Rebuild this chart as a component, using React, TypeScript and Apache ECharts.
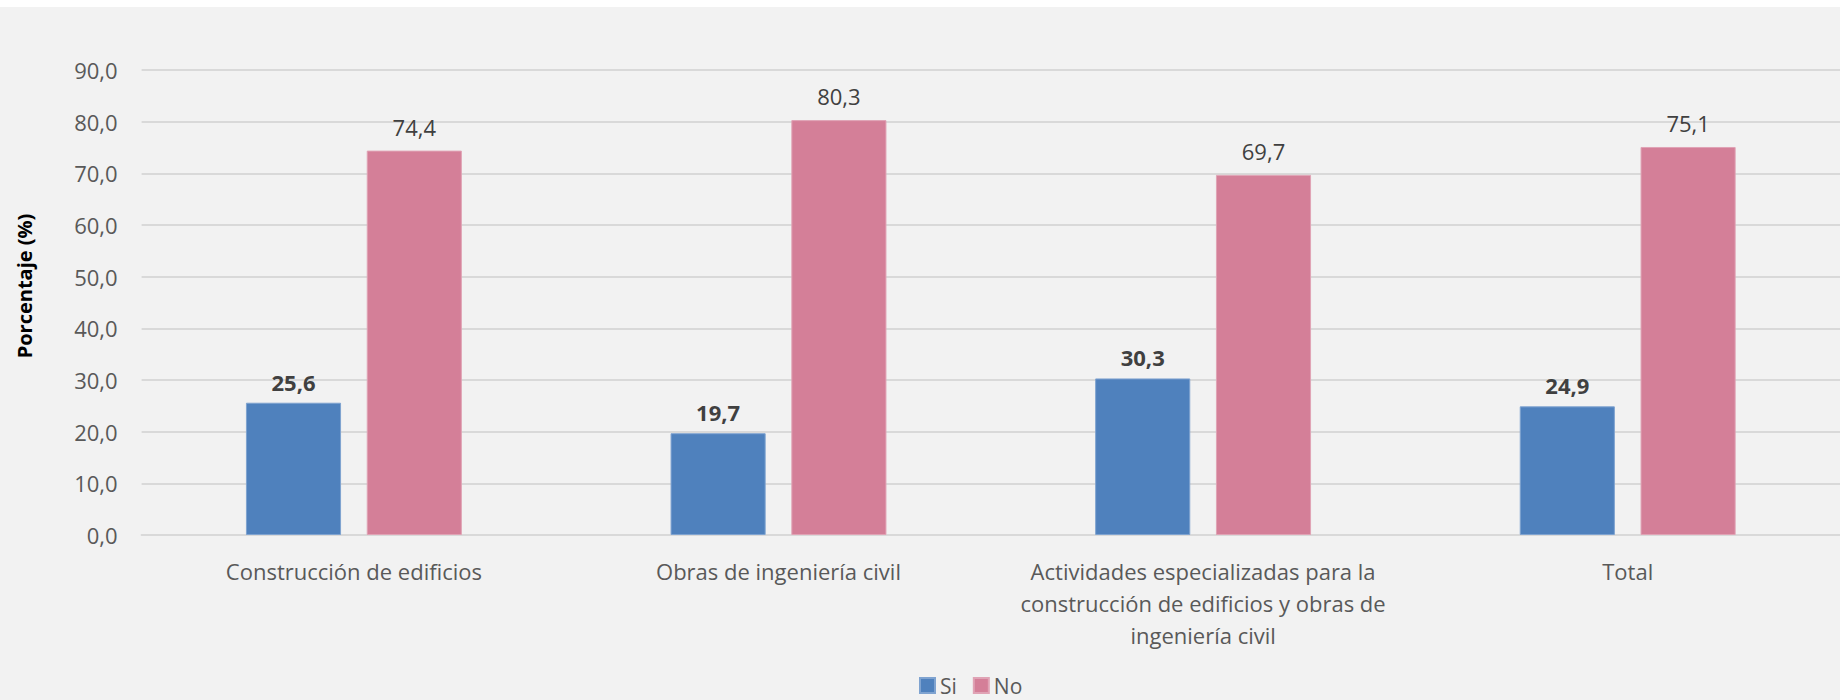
import React, { useEffect, useRef } from "react";
import * as echarts from "echarts";

const categories = [
  "Construcción de edificios",
  "Obras de ingeniería civil",
  "Actividades especializadas para la\nconstrucción de edificios y obras de\ningeniería civil",
  "Total",
];
const siValues = [25.6, 19.7, 30.3, 24.9];
const noValues = [74.4, 80.3, 69.7, 75.1];
const yTicks = { min: 0, max: 90, interval: 10 };

const FONT = "'Open Sans', 'Noto Sans', sans-serif";
const fmt = (v: number) => v.toFixed(1).replace(".", ",");

export default function App() {
  const ref = useRef<HTMLDivElement>(null);
  useEffect(() => {
    if (!ref.current) return;
    const chart = echarts.init(ref.current, undefined, { renderer: "svg" });
    chart.setOption({
      animation: false,
      backgroundColor: "#f2f2f2",
      textStyle: { fontFamily: FONT },
      grid: { left: 141.6, right: -5, top: 63, bottom: 165, containLabel: false },
      legend: {
        data: ["Si", "No"],
        left: 914,
        top: 663,
        itemWidth: 15,
        itemHeight: 15,
        itemGap: 16,
        icon: "rect",
        textStyle: { fontFamily: FONT, fontSize: 21, color: "#595959" },
      },
      xAxis: {
        type: "category",
        data: categories,
        axisLine: { show: true, lineStyle: { color: "#d9d9d9", width: 2 } },
        axisTick: { show: false },
        axisLabel: {
          interval: 0,
          margin: 20,
          color: "#595959",
          fontFamily: FONT,
          fontSize: 22,
          lineHeight: 32,
        },
      },
      yAxis: {
        type: "value",
        min: yTicks.min,
        max: yTicks.max,
        interval: yTicks.interval,
        axisLine: { show: false },
        axisTick: { show: false },
        splitLine: { lineStyle: { color: "#d9d9d9", width: 2 } },
        axisLabel: {
          margin: 24,
          color: "#595959",
          fontFamily: FONT,
          fontSize: 22,
          formatter: (v: number) => fmt(v),
        },
      },
      graphic: [
        {
          type: "text",
          x: 24.5,
          y: 279,
          rotation: Math.PI / 2,
          style: {
            text: "Porcentaje (%)",
            fontFamily: FONT,
            fontSize: 20,
            fontWeight: "bold",
            fill: "#000000",
            textAlign: "center",
            textVerticalAlign: "middle",
          },
        },
      ],
      series: [
        {
          name: "Si",
          type: "bar",
          data: siValues,
          barWidth: "22.4%",
          barGap: "27%",
          itemStyle: { color: "#4f81bd", borderColor: "#7fa3d0", borderWidth: 1 },
          label: {
            show: true,
            position: "top",
            distance: 10,
            formatter: (p: any) => fmt(p.value),
            color: "#404040",
            fontFamily: FONT,
            fontSize: 22,
            fontWeight: "bold",
          },
        },
        {
          name: "No",
          type: "bar",
          data: noValues,
          barWidth: "22.4%",
          itemStyle: { color: "#d47f98", borderColor: "#e0a3b5", borderWidth: 1 },
          label: {
            show: true,
            position: "top",
            distance: 13,
            formatter: (p: any) => fmt(p.value),
            color: "#404040",
            fontFamily: FONT,
            fontSize: 22,
          },
        },
      ],
    });
    return () => chart.dispose();
  }, []);
  return (
    <div
      ref={ref}
      style={{ position: "absolute", left: 0, top: 7, width: 1840, height: 693 }}
    />
  );
}
